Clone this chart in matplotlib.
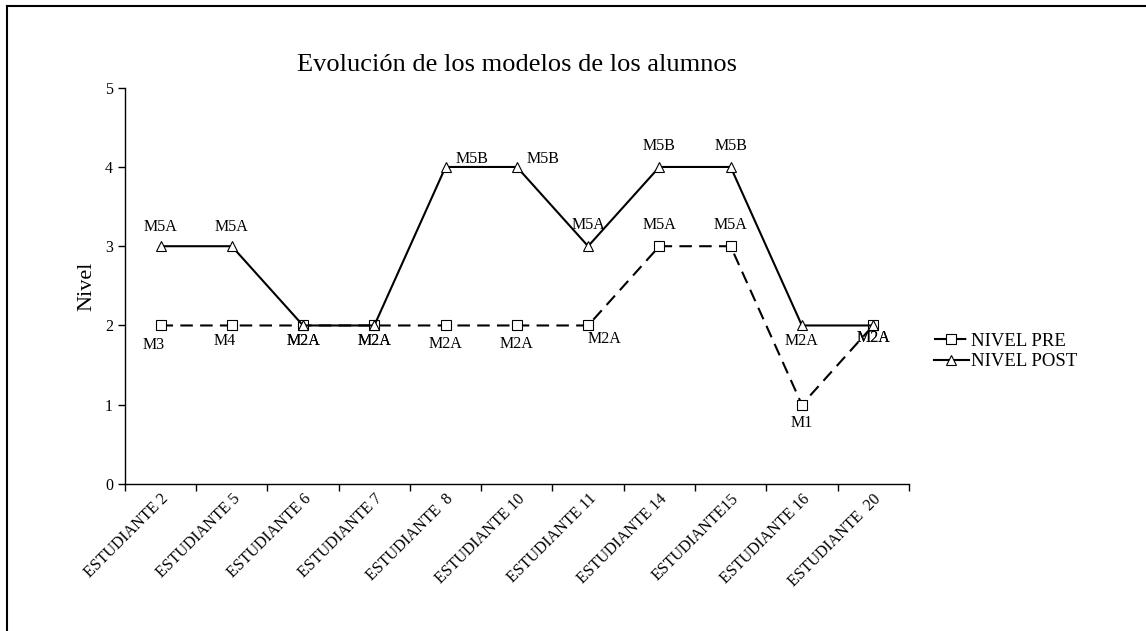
import matplotlib.pyplot as plt
from matplotlib.lines import Line2D
import numpy as np

plt.rcParams['font.family'] = ['Liberation Serif', 'DejaVu Serif']

# Data
estudiantes = ['ESTUDIANTE 2', 'ESTUDIANTE 5', 'ESTUDIANTE 6', 'ESTUDIANTE 7',
               'ESTUDIANTE  8', 'ESTUDIANTE 10', 'ESTUDIANTE 11', 'ESTUDIANTE 14',
               'ESTUDIANTE15', 'ESTUDIANTE 16', 'ESTUDIANTE  20']
nivel_pre = [2, 2, 2, 2, 2, 2, 2, 3, 3, 1, 2]
nivel_post = [3, 3, 2, 2, 4, 4, 3, 4, 4, 2, 2]
modelo_pre = ['M3', 'M4', 'M2A', 'M2A', 'M2A', 'M2A', 'M2A', 'M5A', 'M5A', 'M1', 'M2A']
modelo_post = ['M5A', 'M5A', 'M2A', 'M2A', 'M5B', 'M5B', 'M5A', 'M5B', 'M5B', 'M2A', 'M2A']

# label offsets (points)
off_pre = [(-5, -14), (-5, -11), (0, -11), (0, -11), (0, -13), (0, -13),
           (12, -10), (0, 15), (0, 15), (0, -13), (0, -9)]
off_post = [(0, 14), (0, 14), (0, -11), (0, -11), (19, 6), (19, 6),
            (0, 15), (0, 15), (0, 15), (0, -11), (0, -9)]

fig = plt.figure(figsize=(11.46, 6.31), dpi=100)
ax = fig.add_axes([0.109, 0.233, 0.684, 0.628])

x = np.arange(len(estudiantes))
ax.plot(x, nivel_pre, color='black', lw=1.5, ls=(0, (6, 3.5)), marker='s',
        markersize=7, markerfacecolor='white', markeredgewidth=0.8, label='NIVEL PRE')
ax.plot(x, nivel_post, color='black', lw=1.5, marker='^', markersize=7,
        markerfacecolor='white', markeredgewidth=0.8, label='NIVEL POST')

for i in range(len(x)):
    ax.annotate(modelo_pre[i], (x[i], nivel_pre[i]), xytext=off_pre[i],
                textcoords='offset points', ha='center', va='center', fontsize=11.5)
    ax.annotate(modelo_post[i], (x[i], nivel_post[i]), xytext=off_post[i],
                textcoords='offset points', ha='center', va='center', fontsize=11.5)

ax.set_xlim(-0.5, len(x) - 0.5)
ax.set_ylim(0, 5)
ax.set_yticks(range(6))
ax.set_xticks(np.arange(-0.5, len(x)), labels=[])
ax.set_xticks(x, minor=True)
ax.set_xticklabels(estudiantes, minor=True, rotation=45, ha='right',
                   rotation_mode='anchor', fontsize=11.5)
ax.tick_params(axis='x', which='minor', length=0, pad=5)
ax.tick_params(axis='x', which='major', length=5, width=1)
ax.tick_params(axis='y', length=5, width=1, labelsize=11.5)
for s in ['top', 'right']:
    ax.spines[s].set_visible(False)
ax.spines['left'].set_linewidth(1)
ax.spines['bottom'].set_linewidth(1)

ax.set_ylabel('Nivel', fontsize=16, labelpad=6)
ax.set_title('Evolución de los modelos de los alumnos', fontsize=19, pad=12)

fig.legend(loc='center left', bbox_to_anchor=(0.8, 0.443), frameon=False,
           fontsize=13.5, handlelength=1.9, handletextpad=0.1, labelspacing=0.2)

# outer frame
fig.add_artist(Line2D([0.0065, 0.0065], [0, 0.99], color='black', lw=1.5))
fig.add_artist(Line2D([0.0065, 1], [0.99, 0.99], color='black', lw=1.5))

fig.savefig('out.png', dpi=100)
